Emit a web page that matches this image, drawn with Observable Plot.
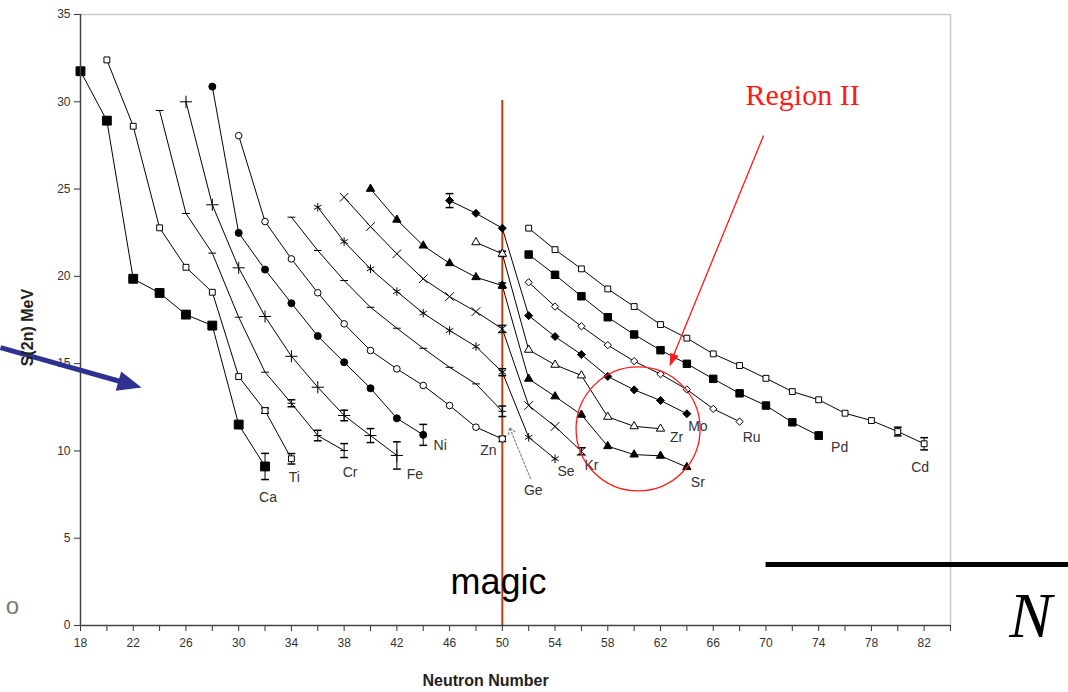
<!DOCTYPE html>
<html><head><meta charset="utf-8">
<script src="https://cdn.jsdelivr.net/npm/d3@7"></script>
<script src="https://cdn.jsdelivr.net/npm/@observablehq/plot@0.6"></script>
<style>body{margin:0;background:#fff;}</style>
</head><body><div id="chart"></div>
<script>
// ---- data ----
const elements = ["Ca","Ti","Cr","Fe","Ni","Zn","Ge","Se","Kr","Sr","Zr","Mo","Ru","Pd","Cd"];
const firstN   = [18, 20, 24, 26, 28, 30, 34, 36, 38, 40, 48, 46, 52, 52, 52];
const sCa = [31.75, 28.92, 19.86, 19.05, 17.81, 17.18, 11.51, 9.11];
const sTi = [32.4, 28.6, 22.78, 20.52, 19.09, 14.26, 12.31, 9.55];
const sCr = [29.5, 23.6, 21.33, 17.66, 14.51, 12.73, 10.88, 10.02];
const sFe = [30.0, 24.1, 20.49, 17.7, 15.42, 13.65, 12.03, 10.88, 9.74];
const sNi = [30.87, 22.49, 20.39, 18.46, 16.58, 15.08, 13.59, 11.87, 10.92];
const sZn = [28.06, 23.14, 21.0, 19.06, 17.28, 15.75, 14.7, 13.75, 12.6, 11.36, 10.69];
const sGe = [23.39, 21.48, 19.76, 18.23, 17.03, 15.88, 14.79, 13.84, 12.27];
const sSe = [23.96, 21.99, 20.43, 19.13, 17.89, 16.9, 15.98, 14.51, 10.78, 9.55];
const sKr = [24.53, 22.85, 21.29, 19.86, 18.84, 17.98, 16.99, 12.6, 11.4, 9.98];
const sSr = [25.01, 23.24, 21.76, 20.75, 19.95, 19.47, 14.13, 13.12, 12.07, 10.27, 9.79, 9.72, 9.07];
const sZr = [21.95, 21.29, 15.79, 14.93, 14.32, 11.95, 11.41, 11.27];
const sMo = [24.34, 23.61, 22.76, 17.75, 16.55, 15.52, 14.27, 13.5, 12.89, 12.13];
const sRu = [19.66, 18.27, 17.14, 16.06, 15.14, 14.4, 13.52, 12.41, 11.68];
const sPd = [21.25, 20.09, 18.86, 17.66, 16.67, 15.77, 14.99, 14.13, 13.3, 12.6, 11.64, 10.88];
const sCd = [22.76, 21.53, 20.43, 19.28, 18.27, 17.24, 16.46, 15.56, 14.89, 14.16, 13.4, 12.93, 12.16, 11.74, 11.11, 10.41];
const sValues = [sCa, sTi, sCr, sFe, sNi, sZn, sGe, sSe, sKr, sSr, sZr, sMo, sRu, sPd, sCd];
// error bars: element, N, half-width
const errEl = ["Ca","Ti","Ti","Cr","Cr","Cr","Fe","Fe","Fe","Ni","Zn","Ge","Se","Kr","Kr","Sr","Zr","Mo","Pd","Cd","Cd"];
const errN  = [32, 32, 34, 34, 36, 38, 38, 40, 42, 44, 50, 50, 50, 50, 56, 50, 50, 46, 74, 80, 82];
const errV  = [0.75, 0.15, 0.3, 0.2, 0.3, 0.4, 0.3, 0.4, 0.78, 0.6, 0.15, 0.3, 0.2, 0.2, 0.2, 0.15, 0.15, 0.4, 0.2, 0.25, 0.35];
const xTicks = d3.range(18, 85, 2);
const yTicks = d3.range(0, 36, 5);

// ---- tables ----
const table = elements.flatMap((el, i) => sValues[i].map((s, j) => ({el, N: firstN[i] + 2 * j, S: s})));
const lastPts = elements.map((el, i) => ({el, N: firstN[i] + 2 * (sValues[i].length - 1), S: sValues[i][sValues[i].length - 1]}));
const errs = errEl.map((el, i) => {
  const p = table.find(d => d.el === el && d.N === errN[i]);
  return {N: errN[i], lo: p.S - errV[i], hi: p.S + errV[i]};
});

// ---- styles ----
const dash = {draw(ctx, size) { const w = Math.sqrt(size) * 0.55; ctx.moveTo(-w, 0); ctx.lineTo(w, 0); }};
const head = (len, wid) => ({draw(ctx) { ctx.moveTo(0, 0); ctx.lineTo(-wid / 2, len); ctx.lineTo(wid / 2, len); ctx.closePath(); }});
const mstyle = {
  Ca: {symbol: "square", fill: "black", r: 5},
  Ti: {symbol: "square", fill: "white", r: 3.3},
  Cr: {symbol: dash, fill: "none", r: 4},
  Fe: {symbol: "plus", fill: "none", r: 4},
  Ni: {symbol: "circle", fill: "black", r: 3.5},
  Zn: {symbol: "circle", fill: "white", r: 3.3},
  Ge: {symbol: dash, fill: "none", r: 4},
  Se: {symbol: "asterisk", fill: "none", r: 4},
  Kr: {symbol: "times", fill: "none", r: 4},
  Sr: {symbol: "triangle", fill: "black", r: 3.1},
  Zr: {symbol: "triangle", fill: "white", r: 3.1},
  Mo: {symbol: "diamond2", fill: "black", r: 3.6},
  Ru: {symbol: "diamond2", fill: "white", r: 3.3},
  Pd: {symbol: "square", fill: "black", r: 4.2},
  Cd: {symbol: "square", fill: "white", r: 3.3}
};
const labelOff = {
  Ca: [3, 31], Ti: [3, 19], Cr: [6, 22], Fe: [18, 19], Ni: [17, 11], Zn: [-14, 12], Ge: [31, 79],
  Se: [11, 13], Kr: [10, 14], Sr: [11, 15], Zr: [16, 9], Mo: [11, 13], Ru: [12, 16], Pd: [21, 12], Cd: [-4, 24]
};
const font = "Liberation Sans, Arial, sans-serif";

const marks = [
  Plot.ruleY([35], {stroke: "#c8c8c8", strokeWidth: 1.5}),
  Plot.ruleX([84], {stroke: "#c8c8c8", strokeWidth: 1.5}),
  Plot.axisX({ticks: xTicks, tickFormat: d => (d % 4 === 2 && d <= 82) ? String(d) : "", tickSize: 6, tickPadding: 7, label: null, fontSize: 12}),
  Plot.axisY({ticks: yTicks, tickSize: 6, tickPadding: 4, label: null, fontSize: 12}),
  Plot.ruleX([50], {y1: 0, y2: 30.07, stroke: "#c8400c", strokeWidth: 2}),
  Plot.line(table, {x: "N", y: "S", z: "el", stroke: "black", strokeWidth: 1}),
  Plot.ruleX(errs, {x: "N", y1: "lo", y2: "hi", stroke: "black", strokeWidth: 1}),
  Plot.dot(errs, {x: "N", y: "lo", symbol: dash, r: 4, stroke: "black", fill: "none"}),
  Plot.dot(errs, {x: "N", y: "hi", symbol: dash, r: 4, stroke: "black", fill: "none"}),
  ...elements.map(el => Plot.dot(table.filter(d => d.el === el), {x: "N", y: "S", stroke: "black", strokeWidth: 1, ...mstyle[el]})),
  ...elements.map(el => {
    const p = lastPts.filter(d => d.el === el);
    return Plot.text(p, {x: "N", y: "S", text: "el", dx: labelOff[el][0], dy: labelOff[el][1], fontSize: 14, fill: "#333", fontFamily: font});
  }),
  Plot.ruleX([18], {stroke: "#444", strokeWidth: 1.5}),
  Plot.ruleY([0], {stroke: "#444", strokeWidth: 1.5}),
  // Ge pointer
  Plot.arrow([0], {x1: 52.14, y1: 8.42, x2: 50.55, y2: 11.34, stroke: "#888", strokeWidth: 1.2, strokeDasharray: "2,2", headLength: 9}),
  // magic
  Plot.text(["magic"], {x: 49.71, y: 2.49, fontSize: 36, fill: "black", fontFamily: font}),
  // Region II annotation
  Plot.text(["Region II"], {x: 72.78, y: 30.34, fontSize: 30, fill: "#ff1a1a", fontFamily: "Liberation Serif, Times New Roman, serif"}),
  Plot.link([0], {x1: 69.82, y1: 28.07, x2: 63.0, y2: 15.5, stroke: "#ff1a1a", strokeWidth: 1.3}),
  Plot.dot([0], {x: 62.69, y: 14.84, symbol: head(13, 9), r: 5, fill: "#ff1a1a", stroke: "none", rotate: 202}),
  Plot.dot([0], {x: 60.3, y: 11.26, r: 62, fill: "none", stroke: "#ff1a1a", strokeWidth: 1.3}),
  // blue arrow
  Plot.link([0], {x1: 11.93, y1: 15.92, x2: 21.76, y2: 13.82, stroke: "#2e3192", strokeWidth: 5}),
  Plot.dot([0], {x: 22.63, y: 13.63, symbol: head(24, 20), r: 10, fill: "#2e3192", stroke: "none", rotate: 105.8}),
  // other slide remnants
  Plot.link([0], {x1: 69.97, y1: 3.49, x2: 92.96, y2: 3.49, stroke: "black", strokeWidth: 5}),
  Plot.text(["N"], {x: 90.08, y: 0.54, fontSize: 64, fontStyle: "italic", fill: "black", fontFamily: "Liberation Serif, Times New Roman, serif"}),
  Plot.text(["o"], {x: 12.84, y: 1.09, fontSize: 24, fill: "#777", fontFamily: font}),
  // axis titles
  Plot.text(["S(2n) MeV"], {x: 13.98, y: 17.07, rotate: -90, fontSize: 16, fontWeight: "bold", fill: "#222", fontFamily: font}),
  Plot.text(["Neutron Number"], {x: 48.73, y: -3.15, fontSize: 16, fontWeight: "bold", fill: "#222", fontFamily: font})
];

const chart = Plot.plot({
  width: 1068, height: 692,
  marginLeft: 80, marginRight: 118, marginTop: 14, marginBottom: 67,
  x: {domain: [18, 84]},
  y: {domain: [0, 35]},
  style: {fontFamily: font, fontSize: "12px", color: "#333", background: "white", overflow: "visible"},
  marks
});
document.getElementById("chart").appendChild(chart);
</script></body></html>
